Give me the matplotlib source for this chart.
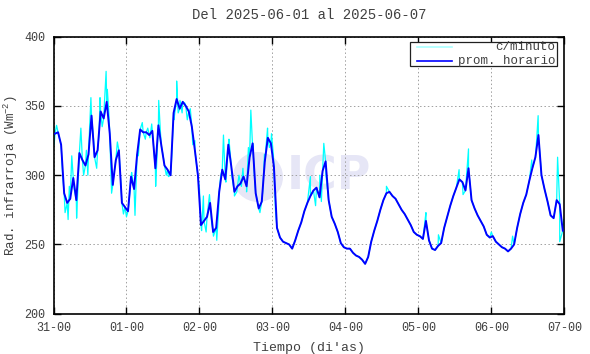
import numpy as np
import matplotlib
matplotlib.use("Agg")
import matplotlib.pyplot as plt
from matplotlib.patches import Ellipse, Rectangle
from matplotlib.lines import Line2D

plt.rcParams['font.family'] = ['Liberation Mono', 'DejaVu Sans Mono']
plt.rcParams['mathtext.fontset'] = 'custom'
plt.rcParams['mathtext.rm'] = 'Liberation Mono'
plt.rcParams['mathtext.it'] = 'Liberation Mono'

# hourly mean (W m-2), hour 0 = 31-00
prom_horario = [
    330, 331, 322, 287, 280, 283, 298, 282, 316, 311, 307, 315,
    343, 313, 318, 346, 341, 353, 330, 293, 311, 318, 280, 277,
    274, 299, 290, 315, 333, 331, 331, 329, 332, 305, 336, 321,
    307, 304, 300, 345, 355, 348, 353, 350, 346, 335, 318, 300,
    264, 267, 270, 280, 259, 262, 288, 304, 297, 322, 306, 288,
    292, 294, 299, 292, 313, 323, 287, 276, 281, 310, 327, 323,
    306, 262, 255, 252, 251, 250, 247, 253, 260, 266, 274, 280,
    285, 289, 291, 284, 303, 310, 282, 270, 265, 259, 251, 248,
    247, 247, 244, 242, 241, 239, 236, 241, 252, 260, 267, 275,
    282, 287, 288, 285, 283, 279, 275, 272, 268, 264, 259, 257,
    256, 254, 267, 253, 247, 246, 249, 251, 262, 270, 278, 285,
    291, 297, 295, 289, 305, 282, 276, 271, 267, 263, 257, 255,
    256, 252, 250, 248, 247, 245, 247, 250, 262, 272, 280, 286,
    296, 305, 313, 329, 300, 290, 281, 271, 269, 282, 279, 260,
]

# per-minute excursions (hour, W m-2)
min_t = [0.2, 1.0, 2.0, 3.0, 3.8, 4.8, 5.2, 6.0, 6.8, 7.6, 8.2, 9.0, 9.9, 10.8, 11.3,
         12.3, 13.2, 14.2, 15.0, 15.3, 16.0, 16.7, 17.3, 17.7, 18.2, 19.1, 19.8, 21.0,
         22.0, 23.0, 24.0, 24.9, 25.7, 26.8, 27.9, 28.3, 29.2, 30.2, 31.0, 31.7, 32.3,
         33.6, 34.6, 35.2, 36.2, 37.1, 37.8, 38.8, 39.6, 40.5, 41.0, 41.6, 42.3, 43.2,
         44.0, 45.0, 45.8, 46.5, 47.2, 48.0, 48.7, 49.3, 50.2, 51.3, 52.0, 52.6, 53.7,
         54.3, 55.0, 55.9, 56.7, 57.2, 57.7, 58.6, 59.5, 60.3, 61.0, 61.8, 62.3, 63.5,
         64.1, 64.9, 65.5, 66.2, 67.0, 67.9, 68.8, 69.4, 70.4, 71.0, 71.7, 72.3, 73.0,
         84.5, 86.2, 87.6, 88.1, 88.9, 89.6, 109.5, 122.5, 126.6, 133.4, 134.7, 136.5,
         144.0, 151.0, 157.3, 158.7, 159.4, 165.8, 166.5, 167.8]
min_v = [322, 336, 326, 300, 273, 268, 292, 314, 290, 269, 300, 334, 300, 318, 300,
         356, 325, 305, 330, 356, 335, 350, 375, 362, 345, 287, 300, 324,
         300, 272, 270, 282, 302, 271, 314, 326, 338, 326, 334, 327, 337,
         292, 354, 330, 312, 300, 299, 310, 340, 368, 345, 354, 345, 352,
         340, 348, 322, 325, 305, 290, 260, 285, 259, 286, 266, 256, 253,
         275, 300, 329, 295, 312, 326, 300, 285, 288, 300, 292, 305, 288,
         320, 347, 320, 295, 282, 273, 288, 315, 334, 320, 330, 315, 275,
         299, 278, 300, 281, 323, 300, 292, 273, 257, 304, 286, 319,
         259, 256, 311, 318, 343, 313, 252, 268]

tick_labels = ['31-00', '01-00', '02-00', '03-00', '04-00', '05-00', '06-00', '07-00']

horas = np.arange(len(prom_horario)) + 0.5
t_all = np.concatenate([horas, min_t])
v_all = np.concatenate([prom_horario, min_v])
orden = np.argsort(t_all)

txt = '#404040'
fig = plt.figure(figsize=(5.9, 3.54), dpi=100)
ax = fig.add_axes([0.0907, 0.1138, 0.8657, 0.7825])

# watermark
ax.add_patch(Ellipse((258 / 590, 1 - 177 / 354), 50 / 590, 50 / 354,
                     transform=fig.transFigure, facecolor='#e6e6f6',
                     edgecolor='none', zorder=0.5))
ax.text(287 / 590, 1 - 177 / 354, 'ICP', transform=fig.transFigure,
        fontsize=33, fontweight='bold', family='DejaVu Sans', color='#e6e6f6',
        ha='left', va='center', zorder=0.5)

ax.plot(t_all[orden], v_all[orden], color='#00ffff', lw=0.9, zorder=2)
ax.plot(horas, prom_horario, color='#0000ff', lw=1.4, zorder=3)

ax.set_xlim(0, 168)
ax.set_ylim(200, 400)
ax.set_xticks(np.arange(0, 169, 24))
ax.set_xticklabels(tick_labels)
ax.set_yticks([200, 250, 300, 350, 400])
ax.grid(True, color='#a0a0a0', ls=(0, (1.5, 2.5)), lw=0.7)
ax.tick_params(direction='in', length=5, width=1, top=True, right=True,
               labelsize=8.5, labelcolor=txt, pad=6)
for s in ax.spines.values():
    s.set_linewidth(1.2)

ax.set_title('Del 2025-06-01 al 2025-06-07', fontsize=10, color=txt, pad=13)
ax.set_xlabel("Tiempo (di'as)", fontsize=9.5, color=txt, labelpad=6)
ax.set_ylabel(r'Rad. infrarroja (Wm$^{-2}$)', fontsize=9, color=txt)
ax.yaxis.set_label_coords(-0.066, 0.5)

# legend box in gnuplot style
ax.add_patch(Rectangle((0.697, 0.894), 0.289, 0.088, transform=ax.transAxes,
                       facecolor='white', edgecolor='#202020', lw=0.9, zorder=5))
for yy, col, lab in [(0.962, '#aaffff', 'c/minuto'), (0.914, '#0000ff', 'prom. horario')]:
    ax.add_line(Line2D([0.712, 0.781], [yy, yy], transform=ax.transAxes,
                       color=col, lw=1.2, zorder=6))
    ax.text(0.983, yy, lab, transform=ax.transAxes, ha='right', va='center',
            fontsize=9, color=txt, zorder=6)

fig.savefig('out.png', dpi=100)
